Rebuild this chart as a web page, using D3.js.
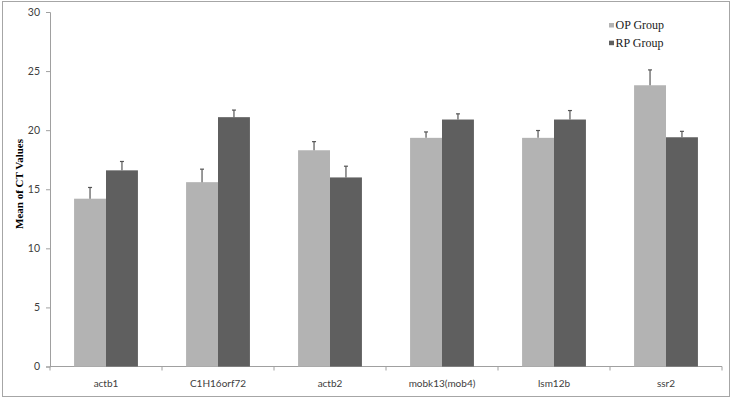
<!DOCTYPE html>
<html><head><meta charset="utf-8">
<script src="https://cdn.jsdelivr.net/npm/d3@7"></script>
<style>body{margin:0;background:#fff}svg{display:block}</style>
</head><body>
<svg id="c" width="733" height="400"></svg>
<script>
const categories = ["actb1","C1H16orf72","actb2","mobk13(mob4)","lsm12b","ssr2"];
const seriesNames = ["OP Group","RP Group"];
const opValues = [14.2,15.6,18.3,19.35,19.35,23.8];
const rpValues = [16.6,21.1,16.0,20.9,20.9,19.4];
const opErrors = [0.95,1.1,0.73,0.5,0.62,1.3];
const rpErrors = [0.75,0.6,0.95,0.48,0.76,0.5];
const yTicks = [0,5,10,15,20,25,30];
const colors = ["#b3b3b3","#5f5f5f"];

const svg = d3.select("#c");
svg.append("rect").attr("x",2.5).attr("y",1.5).attr("width",727).attr("height",395)
  .attr("fill","#fff").attr("stroke","#a6a6a6").attr("stroke-width",1);

const pLeft=50, pRight=722, pTop=12, pBottom=366.5;
const x = d3.scaleBand().domain(categories).range([pLeft,pRight]).paddingInner(0.43).paddingOuter(0.215);
const xs = d3.scaleBand().domain(seriesNames).range([0,x.bandwidth()]);
const y = d3.scaleLinear().domain([0,30]).range([pBottom,pTop]);
const tickFont = "Lato, 'Open Sans', sans-serif";

// y axis
const ya = svg.append("g").attr("transform",`translate(${pLeft},0)`)
  .call(d3.axisLeft(y).tickValues(yTicks).tickSize(4).tickPadding(6));
ya.select(".domain").attr("stroke","#a0a0a0");
ya.selectAll(".tick line").attr("stroke","#a0a0a0");
ya.selectAll("text").attr("fill","#404040").style("font-family",tickFont).style("font-size","10.5px");

// x axis
const xa = svg.append("g").attr("transform",`translate(0,${pBottom})`);
xa.append("line").attr("x1",pLeft).attr("x2",pRight).attr("stroke","#a0a0a0");
const step=(pRight-pLeft)/categories.length;
xa.selectAll(".tk").data(d3.range(categories.length+1)).join("line")
  .attr("x1",i=>pLeft+i*step).attr("x2",i=>pLeft+i*step).attr("y1",0).attr("y2",4).attr("stroke","#a0a0a0");
xa.selectAll(".lb").data(categories).join("text")
  .attr("x",d=>x(d)+x.bandwidth()/2).attr("y",20.5).attr("text-anchor","middle")
  .attr("fill","#404040").style("font-family",tickFont).style("font-size","10px").text(d=>d);

// bars
const data = categories.map((c,i)=>[
  {c,s:seriesNames[0],v:opValues[i],e:opErrors[i],col:colors[0]},
  {c,s:seriesNames[1],v:rpValues[i],e:rpErrors[i],col:colors[1]}]).flat();
const g = svg.append("g");
g.selectAll("rect").data(data).join("rect")
  .attr("x",d=>x(d.c)+xs(d.s)).attr("width",xs.bandwidth())
  .attr("y",d=>y(d.v)).attr("height",d=>y(0)-y(d.v)).attr("fill",d=>d.col);
// error bars
const eb = svg.append("g").attr("stroke","#555").attr("stroke-width",1.2);
data.forEach(d=>{
  const cx = x(d.c)+xs(d.s)+xs.bandwidth()/2;
  eb.append("line").attr("x1",cx).attr("x2",cx).attr("y1",y(d.v)).attr("y2",y(d.v+d.e));
  eb.append("line").attr("x1",cx-2).attr("x2",cx+2).attr("y1",y(d.v+d.e)).attr("y2",y(d.v+d.e));
});

// y title
svg.append("text").attr("transform","translate(23,184) rotate(-90)").attr("text-anchor","middle")
  .style("font-family","'Liberation Serif',serif").style("font-weight","bold").style("font-size","11px")
  .attr("fill","#000").text("Mean of CT Values");

// legend
const lg = svg.append("g");
seriesNames.forEach((s,i)=>{
  lg.append("rect").attr("x",609).attr("y",23+i*17.7).attr("width",5).attr("height",4.5).attr("fill",colors[i]);
  lg.append("text").attr("x",615.5).attr("y",29+i*17.7).style("font-family","'Liberation Serif',serif")
    .style("font-size","12px").attr("fill","#1a1a1a").text(s);
});
</script>
</body></html>
